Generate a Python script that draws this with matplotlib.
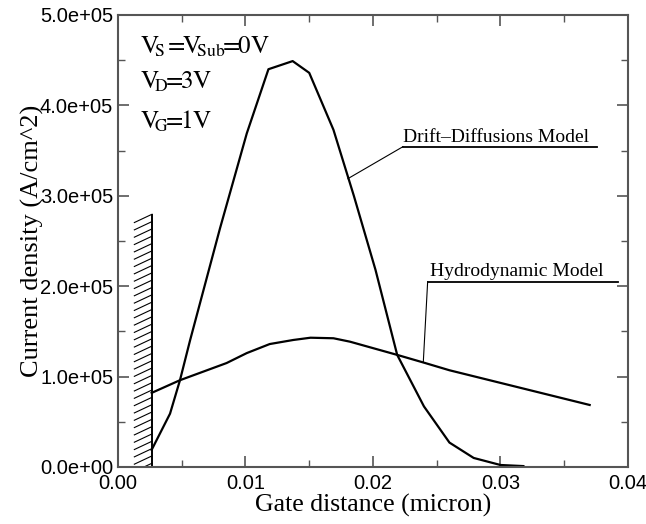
import matplotlib
matplotlib.use('Agg')
import matplotlib.pyplot as plt
import numpy as np

plt.rcParams['mathtext.fontset'] = 'stix'

# drift-diffusion model curve
dd_x = [0.00264, 0.00408, 0.00486, 0.00565, 0.0080, 0.0101, 0.0118, 0.0137, 0.0150,
        0.0169, 0.0185, 0.0202, 0.0219, 0.0240, 0.0260, 0.0279, 0.0300, 0.0318]
dd_y = [0.19e5, 0.59e5, 0.96e5, 1.40e5, 2.64e5, 3.69e5, 4.40e5, 4.49e5, 4.36e5,
        3.73e5, 3.00e5, 2.18e5, 1.24e5, 0.67e5, 0.27e5, 0.10e5, 0.022e5, 0.01e5]

# hydrodynamic model curve
hd_x = [0.00264, 0.00486, 0.00852, 0.0101, 0.0119, 0.01375, 0.0151, 0.0169, 0.0182,
        0.0219, 0.0240, 0.0260, 0.0370]
hd_y = [0.82e5, 0.96e5, 1.15e5, 1.26e5, 1.36e5, 1.405e5, 1.43e5, 1.424e5, 1.386e5,
        1.24e5, 1.154e5, 1.07e5, 0.686e5]

wall_x = 0.00267
wall_top = 2.79e5

xticks = [0.0, 0.01, 0.02, 0.03, 0.04]
xtick_labels = ['0.00', '0.01', '0.02', '0.03', '0.04']
yticks = [0, 1e5, 2e5, 3e5, 4e5, 5e5]
ytick_labels = ['0.0e+00', '1.0e+05', '2.0e+05', '3.0e+05', '4.0e+05', '5.0e+05']

fig = plt.figure(figsize=(6.46, 5.24), dpi=100)
ax = fig.add_axes([0.1827, 0.1088, 0.7893, 0.8626])

ax.plot(dd_x, dd_y, color='black', lw=1.6)
ax.plot(hd_x, hd_y, color='black', lw=1.6)

# gate wall with hatching
ax.plot([wall_x, wall_x], [0, wall_top], color='black', lw=1.4)
for yy in np.arange(-0.05e5, wall_top - 0.08e5, 0.081e5):
    ax.plot([wall_x - 0.00139, wall_x], [yy, yy + 0.092e5], color='black', lw=0.8)

ax.set_xlim(0, 0.04)
ax.set_ylim(0, 5e5)
ax.set_xticks(xticks)
ax.set_xticklabels(xtick_labels)
ax.set_yticks(yticks)
ax.set_yticklabels(ytick_labels)
ax.set_xticks(np.arange(0, 0.0401, 0.005), minor=True)
ax.set_yticks(np.arange(0, 5.01e5, 0.5e5), minor=True)
ax.tick_params(which='both', direction='in', top=True, right=True, color='#555555')
ax.tick_params(which='major', length=8, width=1.2, labelsize=14.5)
ax.tick_params(which='minor', length=5, width=1.0)
ax.tick_params(axis='x', which='major', pad=5)
for lab in ax.get_xticklabels() + ax.get_yticklabels():
    lab.set_family('Liberation Sans')
for s in ax.spines.values():
    s.set_color('#555555')
    s.set_linewidth(1.5)

ax.set_xlabel('Gate distance (micron)', family='Liberation Serif', fontsize=18.5, labelpad=1)
ax.set_ylabel('Current density (A/cm^2)', family='Liberation Serif', fontsize=19, labelpad=-3)

ax.text(0.00173, 4.58e5, r'$\mathrm{V_{\!\!S}\;\!\!=\!\!V_{\!\!Sub}\!\!=\!\!0V}$', fontsize=18, va='baseline')
ax.text(0.00173, 4.19e5, r'$\mathrm{V_{\!\!D}\!\!=\!\!3V}$', fontsize=18, va='baseline')
ax.text(0.00173, 3.74e5, r'$\mathrm{V_{\!\!G}\!\!=\!\!1V}$', fontsize=18, va='baseline')

# labels with underline and leader lines
ax.text(0.02235, 3.59e5, 'Drift\u2013Diffusions Model', family='Liberation Serif', fontsize=14, va='baseline')
ax.plot([0.02235, 0.03757], [3.543e5, 3.543e5], color='black', lw=1.3)
ax.plot([0.02235, 0.01804], [3.543e5, 3.19e5], color='black', lw=0.8)

ax.text(0.0245, 2.11e5, 'Hydrodynamic Model', family='Liberation Serif', fontsize=14, va='baseline')
ax.plot([0.02429, 0.03924], [2.05e5, 2.05e5], color='black', lw=1.3)
ax.plot([0.02429, 0.02395], [2.05e5, 1.165e5], color='black', lw=0.8)

fig.savefig('out.png', dpi=100)
